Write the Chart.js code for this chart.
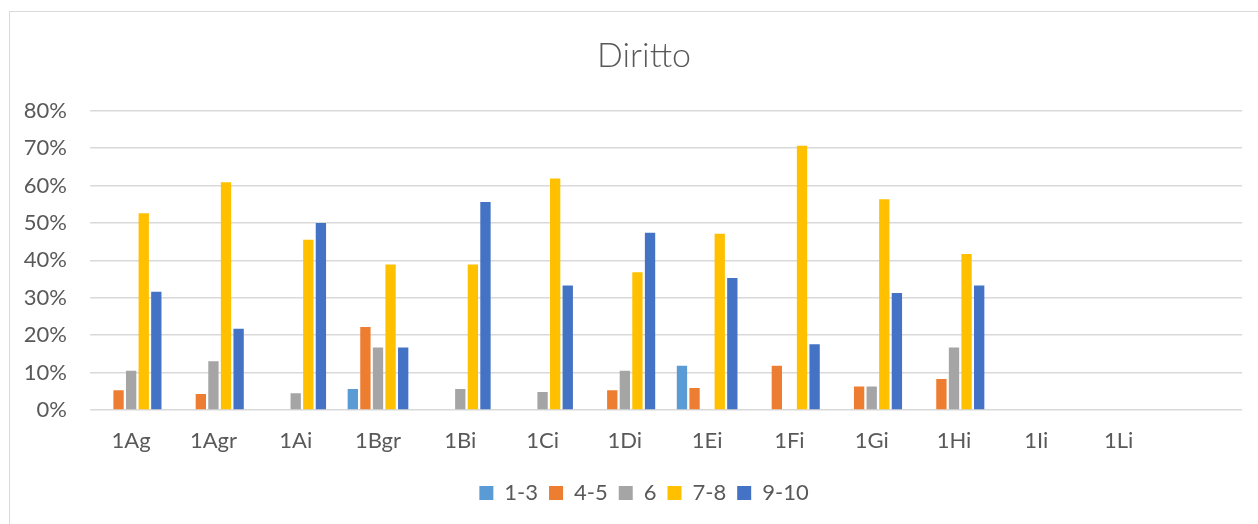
<!DOCTYPE html>
<html>
<head>
<meta charset="utf-8">
<script src="https://cdn.jsdelivr.net/npm/chart.js@4/dist/chart.umd.min.js"></script>
<style>
    body { margin: 0; overflow: hidden; background: #fff; }
    #frame { position: absolute; left: 9px; top: 11px; width: 1400px; height: 700px; border: 1px solid #d9d9d9; }
    #wrap { position: absolute; left: 0; top: 0; width: 1258px; height: 524px; }
</style>
</head>
<body>
<div id="frame"></div>
<div id="wrap"><canvas id="myChart"></canvas></div>
<script>
// classes (last one is an empty slot, like in the sheet)
const classes = ['1Ag', '1Agr', '1Ai', '1Bgr', '1Bi', '1Ci', '1Di', '1Ei', '1Fi', '1Gi', '1Hi', '1Ii', '1Li', ''];

// percentages per grade band
const grade1to3 = [null, null, null, 5.6, null, null, null, 11.8, null, null, null, null, null, null];
const grade4to5 = [5.3, 4.3, null, 22.2, null, null, 5.3, 5.9, 11.8, 6.3, 8.3, null, null, null];
const grade6 = [10.5, 13.0, 4.5, 16.7, 5.6, 4.8, 10.5, null, null, 6.3, 16.7, null, null, null];
const grade7to8 = [52.6, 60.9, 45.5, 38.9, 38.9, 61.9, 36.8, 47.1, 70.6, 56.3, 41.7, null, null, null];
const grade9to10 = [31.6, 21.7, 50.0, 16.7, 55.6, 33.3, 47.4, 35.3, 17.6, 31.3, 33.3, null, null, null];

const seriesNames = ['1-3', '4-5', '6', '7-8', '9-10'];
const yTicks = [0, 10, 20, 30, 40, 50, 60, 70, 80];

const barColors = [
    '#5B9BD5', // light blue
    '#ED7D31', // orange
    '#A5A5A5', // grey
    '#FFC000', // yellow
    '#4472C4'  // blue
];

const textColor = '#595959';
const fontName = 'Lato, "Open Sans", sans-serif';

// y labels sit left of the (narrow) axis box, so don't clip them
const noLabelClip = {
    id: 'noLabelClip',
    afterLayout(chart) {
        chart.scales.y._computeLabelArea = () => undefined;
    }
};

window.onload = function () {
    const allSeries = [grade1to3, grade4to5, grade6, grade7to8, grade9to10];
    const datasets = allSeries.map((values, i) => ({
        label: seriesNames[i],
        data: values,
        backgroundColor: barColors[i],
        borderWidth: 0,
        categoryPercentage: 0.765,
        barPercentage: 0.82
    }));

    const ctx = document.getElementById('myChart').getContext('2d');
    const myChart = new Chart(ctx, {
        type: 'bar',
        data: {
            labels: classes,
            datasets: datasets
        },
        plugins: [noLabelClip],
        options: {
            responsive: true,
            maintainAspectRatio: false,
            animation: false,
            layout: {
                padding: { top: 0, left: 46, right: 16, bottom: 10 }
            },
            plugins: {
                title: {
                    display: true,
                    text: 'Diritto',
                    color: textColor,
                    font: { family: fontName, size: 34, weight: '300' },
                    padding: { top: 35.6, bottom: 34.3 }
                },
                legend: {
                    position: 'bottom',
                    labels: {
                        color: textColor,
                        font: { family: fontName, size: 22 },
                        boxWidth: 14,
                        boxHeight: 14,
                        padding: 11
                    }
                },
                tooltip: { enabled: false }
            },
            scales: {
                x: {
                    grid: { display: false, drawTicks: false },
                    border: { display: false },
                    ticks: {
                        color: textColor,
                        font: { family: fontName, size: 22 },
                        padding: 18,
                        autoSkip: false,
                        maxRotation: 0
                    },
                    afterFit: (scale) => { scale.height = 61; }
                },
                y: {
                    min: 0,
                    max: 80,
                    afterBuildTicks: (scale) => { scale.ticks = yTicks.map((v) => ({ value: v })); },
                    grid: { color: '#d9d9d9', lineWidth: 1.5, drawTicks: false },
                    border: { display: false },
                    ticks: {
                        color: textColor,
                        font: { family: fontName, size: 22 },
                        padding: 23,
                        callback: (v) => v + '%'
                    },
                    afterFit: (scale) => { scale.width = 44; }
                }
            }
        }
    });
};
</script>
</body>
</html>
